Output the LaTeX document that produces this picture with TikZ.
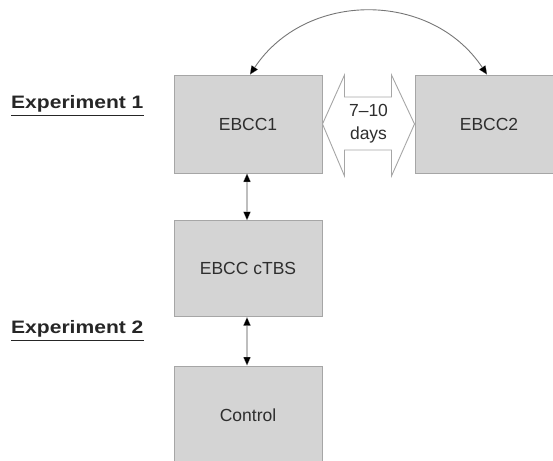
\documentclass[tikz,border=0pt]{standalone}
\usepackage{fontspec}
\setmainfont{Liberation Sans}
\usetikzlibrary{arrows.meta,calc}
\definecolor{boxfill}{HTML}{D4D4D4}
\definecolor{boxline}{HTML}{A6A6A6}
\definecolor{txt}{HTML}{2E2E2E}
\definecolor{curveline}{HTML}{767676}
\definecolor{vline}{HTML}{BEBEBE}
\tikzset{
  stagebox/.style={draw=boxline, line width=1pt, fill=boxfill, minimum width=148pt, minimum height=98pt, inner sep=0pt, text=txt, font=\fontsize{17.5}{20}\selectfont},
  exlabel/.style={anchor=base west, inner sep=0pt, text=black!85, font=\bfseries\fontsize{18}{20}\selectfont},
  blacktip/.style={{Triangle[length=8.5pt,width=7.5pt,fill=black,line width=0.1pt]}-{Triangle[length=8.5pt,width=7.5pt,fill=black,line width=0.1pt]}},
}
\begin{document}
\begin{tikzpicture}[x=1pt,y=-1pt]
\useasboundingbox (0,0) rectangle (553,460);
\clip (0,0) rectangle (553,460);
\node[stagebox] (e1) at (248,124) {EBCC1};
\node[stagebox] (e2) at (489,124) {EBCC2};
\node[stagebox, minimum height=96pt] (ct) at (248,268.7) {EBCC cTBS};
\node[stagebox] (co) at (248,415) {Control};
% experiment labels
\node[exlabel] (x1) at (11,108) {\scalebox{1.17}[1]{Experiment 1}};
\draw[black!85, line width=1.7pt] ($(x1.base west)+(0,7.5)$) -- ($(x1.base east)+(0,7.5)$);
\node[exlabel] (x2) at (11,333) {\scalebox{1.17}[1]{Experiment 2}};
\draw[black!85, line width=1.7pt] ($(x2.base west)+(0,7.5)$) -- ($(x2.base east)+(0,7.5)$);
% double arrow between EBCC1 and EBCC2
\draw[boxline, line width=0.9pt, fill=white]
  (e1.east) -- ($(e1.east)+(22,-49)$) -- ($(e1.east)+(22,-27)$) -- ($(e2.west)+(-23,-27)$)
  -- ($(e2.west)+(-23,-49)$) -- (e2.west) -- ($(e2.west)+(-23,52)$) -- ($(e2.west)+(-23,26)$)
  -- ($(e1.east)+(22,26)$) -- ($(e1.east)+(22,52)$) -- cycle;
\node[text=txt, font=\fontsize{17.5}{23}\selectfont, align=center, inner sep=0pt] (days) at ($(e1.east)!0.5!(e2.west)+(0,-0.5)$) {7–10\\days};
% curved arrow
\draw[blacktip, draw=curveline, line width=0.9pt] ([xshift=2pt]e1.north) .. controls +(56,-84) and +(-56,-84) .. ([xshift=-2pt]e2.north);
% vertical arrows
\draw[draw=vline, line width=2.2pt, blacktip] ([xshift=-1pt]e1.south) -- ([xshift=-1pt]ct.north);
\draw[draw=vline, line width=2.2pt, blacktip] ([xshift=-1pt]ct.south) -- ([xshift=-1pt]co.north);
\end{tikzpicture}
\end{document}
